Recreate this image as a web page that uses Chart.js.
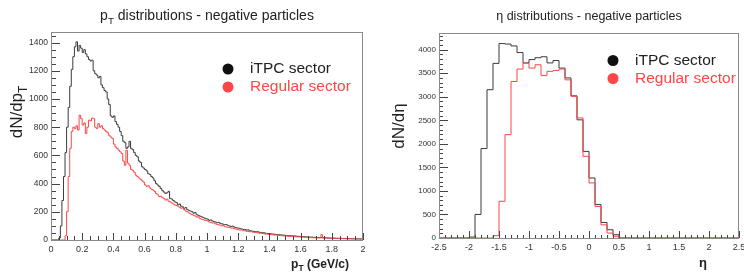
<!DOCTYPE html>
<html>
<head>
<meta charset="utf-8">
<title>pT y eta - particulas negativas</title>
<script src="https://cdn.jsdelivr.net/npm/chart.js@4.4.1/dist/chart.umd.min.js"></script>
<style>
  body { margin: 0; background: #fff; }
  #graficoPt, #graficoEta { position: absolute; top: 0; }
  #graficoPt { left: 0; }
  #graficoEta { left: 372px; }
</style>
</head>
<body>
<canvas id="graficoPt" width="372" height="272"></canvas>
<canvas id="graficoEta" width="372" height="272"></canvas>
<script>
// bins de pT: 0 a 2 GeV/c, ancho 0.01
const ptInicio = 0;
const ptAnchoBin = 0.01;
const ptItpc = [
  0, 0, 0, 0, 0, 0, 15, 100, 280, 450,
  620, 800, 940, 1090, 1210, 1300, 1370, 1405, 1340, 1380,
  1360, 1330, 1350, 1320, 1300, 1280, 1270, 1275, 1200, 1180,
  1170, 1150, 1160, 1100, 1080, 1060, 1050, 1000, 960, 880,
  870, 880, 840, 820, 800, 770, 740, 700, 690, 650,
  660, 700, 650, 640, 620, 600, 590, 560, 550, 520,
  510, 500, 490, 470, 465, 450, 440, 420, 400, 390,
  380, 365, 350, 340, 330, 335, 345, 295, 290, 280,
  270, 265, 250, 255, 240, 235, 225, 230, 215, 210,
  205, 200, 190, 195, 180, 175, 170, 165, 160, 155,
  150, 148, 140, 142, 135, 130, 128, 122, 125, 118,
  115, 112, 108, 110, 102, 100, 96, 98, 92, 88,
  85, 84, 80, 78, 75, 74, 70, 72, 66, 64,
  62, 60, 58, 59, 55, 54, 51, 52, 48, 47,
  46, 44, 43, 42, 40, 39, 38, 37, 36, 35,
  34, 33, 32, 31, 30, 30, 28, 29, 27, 26,
  25, 25, 24, 23, 22, 22, 21, 20, 21, 19,
  19, 18, 18, 17, 17, 16, 16, 15, 15, 14,
  14, 13, 14, 13, 12, 12, 12, 11, 11, 11,
  10, 10, 10, 9, 9, 9, 9, 8, 8, 8
];
const ptRegular = [
  0, 0, 0, 0, 0, 0, 0, 0, 0, 0,
  30, 200, 450, 650, 770, 800, 790, 810, 780, 885,
  860, 815, 830, 755, 800, 850, 845, 865, 860, 800,
  790, 825, 800, 810, 790, 780, 770, 760, 740, 730,
  720, 680, 660, 650, 637, 625, 613, 560, 530, 637,
  545, 530, 500, 495, 480, 460, 450, 440, 430, 420,
  410, 390, 380, 385, 370, 360, 354, 345, 330, 320,
  307, 310, 300, 295, 283, 290, 275, 270, 262, 255,
  248, 245, 240, 232, 225, 228, 215, 205, 200, 192,
  185, 180, 175, 170, 162, 165, 152, 148, 145, 140,
  138, 135, 128, 125, 120, 122, 115, 110, 108, 105,
  100, 102, 95, 92, 90, 88, 84, 85, 80, 78,
  75, 72, 70, 72, 66, 65, 62, 60, 58, 60,
  55, 54, 52, 50, 48, 49, 46, 44, 42, 43,
  40, 39, 38, 36, 35, 36, 33, 32, 31, 30,
  29, 28, 28, 26, 25, 26, 24, 23, 22, 22,
  21, 20, 20, 19, 18, 18, 17, 17, 16, 16,
  15, 15, 14, 15, 38, 14, 13, 13, 12, 12,
  12, 11, 11, 11, 10, 10, 10, 10, 9, 9,
  9, 9, 8, 8, 8, 8, 7, 7, 7, 7
];
const ptTicksX = [0, 0.2, 0.4, 0.6, 0.8, 1, 1.2, 1.4, 1.6, 1.8, 2];
const ptTicksY = [0, 200, 400, 600, 800, 1000, 1200, 1400];

// bins de eta: -2.5 a 2.5, ancho 0.1
const etaInicio = -2.5;
const etaAnchoBin = 0.1;
const etaItpc = [
  0, 0, 0, 0, 0, 0, 20, 500, 1900, 3150,
  3710, 4130, 4120, 4080, 3940, 3720, 3790, 3830, 3850, 3720,
  3770, 3610, 3400, 3020, 2510, 1840, 1275, 710, 330, 175,
  70, 0, 0, 0, 0, 0, 0, 0, 0, 0,
  0, 0, 0, 0, 0, 0, 0, 0, 0, 0
];
const etaRegular = [
  0, 0, 0, 0, 0, 0, 0, 0, 0, 0,
  50, 780, 2195, 3325, 3590, 3715, 3610, 3680, 3450, 3540,
  3560, 3590, 3360, 3010, 2550, 1735, 1170, 670, 280, 105,
  35, 0, 0, 0, 0, 0, 0, 0, 0, 0,
  0, 0, 0, 0, 0, 0, 0, 0, 0, 0
];
const etaTicksX = [-2.5, -2, -1.5, -1, -0.5, 0, 0.5, 1, 1.5, 2, 2.5];
const etaTicksY = [0, 500, 1000, 1500, 2000, 2500, 3000, 3500, 4000];

const etiquetasSeries = ["iTPC sector", "Regular sector"];
const colorItpc = "#3a3a3a";
const colorRegular = "#ff4545";
const familia = "'Liberation Sans', Arial, Helvetica, sans-serif";

function aPuntos(valores, inicio, ancho) {
  const puntos = valores.map((v, i) => ({ x: inicio + i * ancho, y: v }));
  puntos.push({ x: inicio + valores.length * ancho, y: valores[valores.length - 1] });
  return puntos;
}

// texto con partes en subindice: [["p"], ["T", true], [" (GeV/c)"]]
function dibujarTexto(ctx, partes, x, y, tam, negrita, alinear) {
  const peso = negrita ? "bold " : "";
  let ancho = 0;
  partes.forEach(([t, sub]) => {
    ctx.font = peso + (sub ? tam * 0.7 : tam) + "px " + familia;
    ancho += ctx.measureText(t).width;
  });
  let xi = alinear === "center" ? x - ancho / 2 : x;
  ctx.textAlign = "left";
  ctx.textBaseline = "alphabetic";
  partes.forEach(([t, sub]) => {
    ctx.font = peso + (sub ? tam * 0.7 : tam) + "px " + familia;
    ctx.fillText(t, xi, sub ? y + tam * 0.28 : y);
    xi += ctx.measureText(t).width;
  });
}

const marcoRoot = {
  id: "marcoRoot",
  afterDraw(chart, args, op) {
    const ctx = chart.ctx;
    const a = chart.chartArea;
    const ex = chart.scales.x;
    const ey = chart.scales.y;
    ctx.save();

    // marcas de los ejes hacia dentro
    ctx.strokeStyle = "#444";
    ctx.lineWidth = 1;
    ctx.beginPath();
    for (let k = 0; ; k++) {
      const v = ey.min + k * op.yMenor;
      if (v > ey.max + 1e-9) break;
      const py = Math.round(ey.getPixelForValue(v)) + 0.5;
      const largo = k % op.yDivs === 0 ? op.largoY[0] : op.largoY[1];
      ctx.moveTo(a.left, py);
      ctx.lineTo(a.left + largo, py);
    }
    for (let k = 0; ; k++) {
      const v = ex.min + k * op.xMenor;
      if (v > ex.max + 1e-9) break;
      const px = Math.round(ex.getPixelForValue(v)) + 0.5;
      const largo = k % op.xDivs === 0 ? op.largoX[0] : op.largoX[1];
      ctx.moveTo(px, a.bottom);
      ctx.lineTo(px, a.bottom - largo);
    }
    ctx.stroke();

    // marco
    ctx.strokeStyle = "#8a8a8a";
    ctx.strokeRect(a.left + 0.5, a.top + 0.5, a.right - a.left - 1, a.bottom - a.top);

    // titulo
    ctx.fillStyle = "#222";
    dibujarTexto(ctx, op.titulo, (a.left + a.right) / 2, op.tituloY, op.tituloTam, false, "center");

    // titulo eje x
    dibujarTexto(ctx, op.ejeX, op.ejeXPos[0], op.ejeXPos[1], op.ejeXTam, true, "center");

    // titulo eje y girado
    ctx.save();
    ctx.translate(op.ejeYPos[0], op.ejeYPos[1]);
    ctx.rotate(-Math.PI / 2);
    dibujarTexto(ctx, op.ejeY, 0, 0, op.ejeYTam, false, "center");
    ctx.restore();

    // leyenda
    chart.data.datasets.forEach((ds, i) => {
      const cy = op.leyenda[1] + i * op.leyendaPaso;
      ctx.fillStyle = i === 0 ? "#111" : colorRegular;
      ctx.beginPath();
      ctx.arc(op.leyenda[0], cy, 5.5, 0, Math.PI * 2);
      ctx.fill();
      ctx.fillStyle = i === 0 ? "#222" : colorRegular;
      ctx.font = op.leyendaTam + "px " + familia;
      ctx.textAlign = "left";
      ctx.textBaseline = "middle";
      ctx.fillText(ds.label, op.leyenda[0] + 22, cy);
    });
    ctx.restore();
  }
};

function textoTick(v) {
  return String(Math.round(v * 100) / 100);
}

function crearHistograma(canvasId, puntosItpc, puntosRegular, ejes, marco, caja) {
  return new Chart(document.getElementById(canvasId), {
    type: "line",
    data: {
      datasets: [
        { label: etiquetasSeries[0], data: puntosItpc, borderColor: colorItpc, borderWidth: 1,
          pointRadius: 0, stepped: "after", fill: false, order: 1 },
        { label: etiquetasSeries[1], data: puntosRegular, borderColor: colorRegular, borderWidth: 1,
          pointRadius: 0, stepped: "after", fill: false, order: 0 }
      ]
    },
    options: {
      responsive: false,
      animation: false,
      devicePixelRatio: 1,
      layout: { padding: { left: 0, right: caja.derecha, top: caja.arriba, bottom: 0 } },
      plugins: { legend: { display: false }, tooltip: { enabled: false }, marcoRoot: marco },
      scales: {
        x: {
          type: "linear", min: ejes.xMin, max: ejes.xMax,
          grid: { display: false, drawTicks: false }, border: { display: false },
          ticks: { padding: 4, maxRotation: 0, autoSkip: false, callback: textoTick,
                   color: "#333", font: { family: familia, size: ejes.xFuente } },
          afterBuildTicks(s) { s.ticks = ejes.ticksX.map(v => ({ value: v })); },
          afterFit(s) { s.height = caja.ejeX; s.paddingLeft = 0; s.paddingRight = 0; }
        },
        y: {
          min: 0, max: ejes.yMax,
          grid: { display: false, drawTicks: false }, border: { display: false },
          ticks: { padding: 3, callback: textoTick,
                   color: "#333", font: { family: familia, size: ejes.yFuente } },
          afterBuildTicks(s) { s.ticks = ejes.ticksY.map(v => ({ value: v })); },
          afterFit(s) { s.width = caja.ejeY; s.paddingTop = 0; s.paddingBottom = 0; }
        }
      }
    },
    plugins: [marcoRoot]
  });
}

crearHistograma("graficoPt",
  aPuntos(ptItpc, ptInicio, ptAnchoBin), aPuntos(ptRegular, ptInicio, ptAnchoBin),
  { xMin: 0, xMax: 2, yMax: 1475, ticksX: ptTicksX, ticksY: ptTicksY, xFuente: 9, yFuente: 8.5 },
  { yMenor: 50, yDivs: 4, xMenor: 0.05, xDivs: 4, largoY: [9, 5], largoX: [7, 4],
    titulo: [["p"], ["T", true], [" distributions - negative particles"]], tituloY: 20, tituloTam: 14,
    ejeX: [["p"], ["T", true], [" (GeV/c)"]], ejeXPos: [320, 268], ejeXTam: 12,
    ejeY: [["dN/dp"], ["T", true]], ejeYPos: [22, 112], ejeYTam: 17,
    leyenda: [228, 69], leyendaPaso: 18, leyendaTam: 15.5 },
  { derecha: 9, arriba: 32, ejeX: 32, ejeY: 51 });

crearHistograma("graficoEta",
  aPuntos(etaItpc, etaInicio, etaAnchoBin), aPuntos(etaRegular, etaInicio, etaAnchoBin),
  { xMin: -2.5, xMax: 2.5, yMax: 4355, ticksX: etaTicksX, ticksY: etaTicksY, xFuente: 9, yFuente: 8 },
  { yMenor: 100, yDivs: 5, xMenor: 0.1, xDivs: 5, largoY: [9, 4], largoX: [7, 3],
    titulo: [["η distributions - negative particles"]], tituloY: 20, tituloTam: 12.5,
    ejeX: [["η"]], ejeXPos: [331, 267], ejeXTam: 13,
    ejeY: [["dN/dη"]], ejeYPos: [32, 126], ejeYTam: 17,
    leyenda: [241, 60.5], leyendaPaso: 18, leyendaTam: 15.5 },
  { derecha: 5, arriba: 33, ejeX: 34, ejeY: 67 });
</script>
</body>
</html>
